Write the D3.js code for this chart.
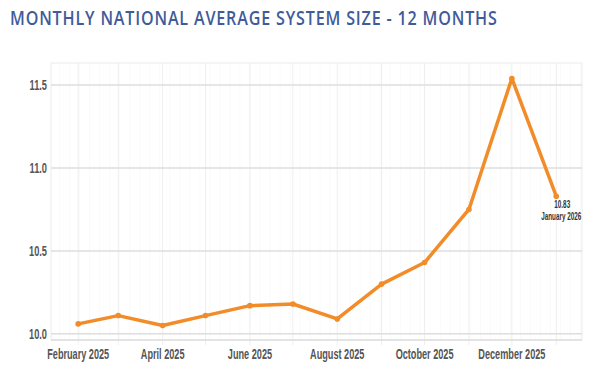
<!DOCTYPE html>
<html>
<head>
<meta charset="utf-8">
<script src="https://cdn.jsdelivr.net/npm/d3@7"></script>
<style>
  html, body { margin: 0; padding: 0; background: #ffffff; }
  svg { display: block; }
</style>
</head>
<body>
<svg id="chart" width="600" height="385"></svg>
<script>
// ---- Data ----
const months = ["2025-02-01","2025-03-01","2025-04-01","2025-05-01","2025-06-01","2025-07-01",
                "2025-08-01","2025-09-01","2025-10-01","2025-11-01","2025-12-01","2026-01-01"];
const avgSize = [10.06, 10.11, 10.05, 10.11, 10.17, 10.18, 10.09, 10.30, 10.43, 10.75, 11.54, 10.83];
const yTicks = [10.0, 10.5, 11.0, 11.5];
const xLabelMonths = ["2025-02-01","2025-04-01","2025-06-01","2025-08-01","2025-10-01","2025-12-01"];
const titleText = "MONTHLY NATIONAL AVERAGE SYSTEM SIZE - 12 MONTHS";
const lastLabel = ["10.83", "January 2026"];

const parse = d3.utcParse("%Y-%m-%d");
const data = months.map((m, i) => ({ date: parse(m), value: avgSize[i] }));

const svg = d3.select("#chart");
const plot = { left: 51, right: 582, top: 63, bottom: 340 };

const x = d3.scaleUtc()
  .domain([parse("2025-01-13"), parse("2026-01-19")])
  .range([plot.left, plot.right]);
const y = d3.scaleLinear()
  .domain([9.963, 11.633])
  .range([plot.bottom, plot.top]);

const labelFont = "'Liberation Sans', Arial, sans-serif";

function measure(txt, size) {
  const t = svg.append("text").attr("font-family", labelFont).attr("font-weight", "bold")
    .attr("font-size", size).text(txt);
  const w = t.node().getComputedTextLength();
  t.remove();
  return w;
}
function condText(sel, px, py, anchor, size, fill, txt, sx) {
  return sel.append("text")
    .attr("transform", `translate(${px},${py}) scale(${sx},1)`)
    .attr("text-anchor", anchor)
    .attr("font-family", labelFont)
    .attr("font-weight", "bold")
    .attr("font-size", size)
    .attr("fill", fill)
    .text(txt);
}

// Title
const title = svg.append("text")
  .attr("font-family", "'Open Sans', 'Noto Sans', sans-serif")
  .attr("font-weight", 600)
  .attr("font-size", 19.5)
  .attr("letter-spacing", 1)
  .attr("fill", "#3f5b99")
  .text(titleText);
const tw = title.node().getComputedTextLength();
title.attr("transform", `translate(10,24.5) scale(${488 / tw},1)`);

const g = svg.append("g");

// minor weekly vertical gridlines
const weeks = d3.utcWeek.range(x.domain()[0], x.domain()[1]);
g.selectAll("line.wk").data(weeks).enter().append("line")
  .attr("x1", d => x(d)).attr("x2", d => x(d))
  .attr("y1", plot.top).attr("y2", plot.bottom)
  .attr("stroke", "#fafafa").attr("stroke-width", 1);

// monthly vertical gridlines
const monthTicks = data.map(d => d.date);
g.selectAll("line.mo").data(monthTicks).enter().append("line")
  .attr("x1", d => x(d)).attr("x2", d => x(d))
  .attr("y1", plot.top).attr("y2", plot.bottom + 5)
  .attr("stroke", "#eeeeee").attr("stroke-width", 1);

// frame
g.append("rect")
  .attr("x", plot.left).attr("y", plot.top)
  .attr("width", plot.right - plot.left).attr("height", plot.bottom - plot.top)
  .attr("fill", "none").attr("stroke", "#ececec").attr("stroke-width", 1);

// horizontal gridlines
g.selectAll("line.hg").data(yTicks).enter().append("line")
  .attr("x1", plot.left).attr("x2", plot.right)
  .attr("y1", d => y(d)).attr("y2", d => y(d))
  .attr("stroke", "#dedede").attr("stroke-width", 1.5);

// bottom axis line
g.append("line")
  .attr("x1", plot.left).attr("x2", plot.right)
  .attr("y1", plot.bottom).attr("y2", plot.bottom)
  .attr("stroke", "#dcdcdc").attr("stroke-width", 1.5);

// y labels
const yScaleX = 17.5 / measure("11.5", 14);
yTicks.forEach(t => condText(svg, 47, y(t) + 5, "end", 14, "#555", d3.format(".1f")(t), yScaleX));

// x labels
const fmt = d3.utcFormat("%B %Y");
const xScaleX = 62 / measure("February 2025", 14);
xLabelMonths.map(parse).forEach(d => condText(svg, x(d), 359, "middle", 14, "#555", fmt(d), xScaleX));

// line
const line = d3.line().x(d => x(d.date)).y(d => y(d.value));
svg.append("path").datum(data)
  .attr("d", line)
  .attr("fill", "none")
  .attr("stroke", "#f28c28")
  .attr("stroke-width", 3.5)
  .attr("stroke-linejoin", "round");

svg.selectAll("circle.pt").data(data).enter().append("circle")
  .attr("cx", d => x(d.date)).attr("cy", d => y(d.value))
  .attr("r", 2.8)
  .attr("fill", "#f28c28");

// last point annotation
const last = data[data.length - 1];
const aScaleX = 40 / measure(lastLabel[1], 10);
condText(svg, x(last.date) + 6, y(last.value) + 12, "middle", 10, "#333", lastLabel[0], aScaleX);
condText(svg, x(last.date) + 5, y(last.value) + 24, "middle", 10, "#333", lastLabel[1], aScaleX);
</script>
</body>
</html>
